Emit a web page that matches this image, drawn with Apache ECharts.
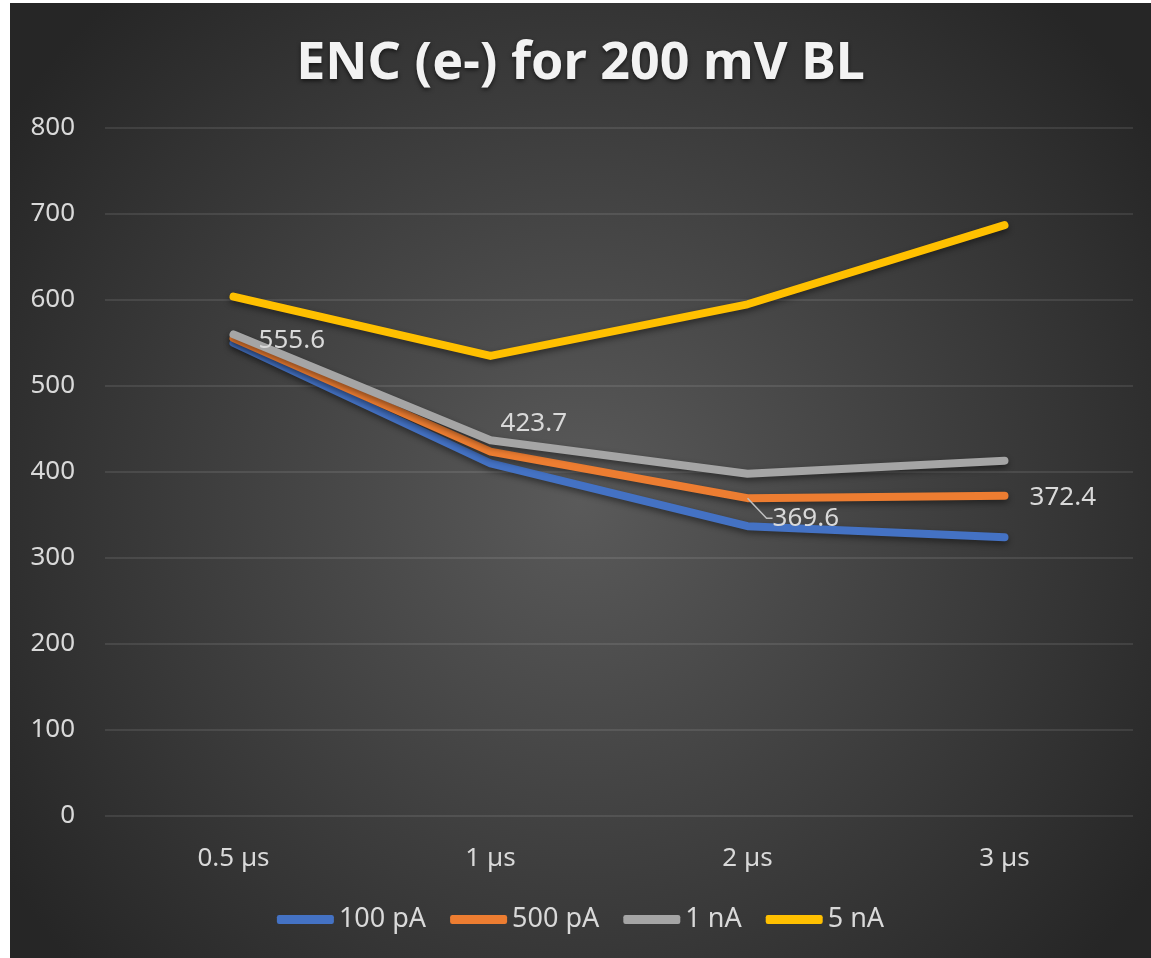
<!DOCTYPE html>
<html>
<head>
<meta charset="utf-8">
<script src="https://cdn.jsdelivr.net/npm/echarts@6/dist/echarts.min.js"></script>
<style>
html,body{margin:0;padding:0;background:#fff;}
#c{position:absolute;left:10px;top:3px;width:1141px;height:955px;}
</style>
</head>
<body>
<div id="c"></div>
<script>
const categories = ['0.5 µs', '1 µs', '2 µs', '3 µs'];
const s100pA = [550, 410, 337, 324];
const s500pA = [555.6, 423.7, 369.6, 372.4];
const s1nA = [560, 437, 398, 413];
const s5nA = [604, 535, 595, 687];
const seriesNames = ['100 pA', '500 pA', '1 nA', '5 nA'];
const colors = ['#4472c4', '#ed7d31', '#a5a5a5', '#ffc000'];
const labelMoves = [[20, 2], [5, -28], [20, 20], [20, 2]];

const chart = echarts.init(document.getElementById('c'));
const font = 'Noto Sans';
function lineSeries(name, data, color, withLabels) {
  const s = {
    name: name, type: 'line', symbol: 'circle', symbolSize: 0.1, showSymbol: true,
    data: data,
    lineStyle: { width: 8, color: color, cap: 'round', join: 'round',
      shadowColor: 'rgba(0,0,0,0.45)', shadowBlur: 6, shadowOffsetY: 3 },
    itemStyle: { color: color },
    emphasis: { disabled: true },
    z: 2
  };
  if (withLabels) {
    s.label = { show: true, color: '#d9d9d9', fontSize: 26, fontFamily: font, position: 'right' };
    s.labelLine = { show: false, lineStyle: { color: '#bfbfbf', width: 1.5 }, length2: 6 };
    s.data = data.map((v, i) => ({
      value: v,
      labelLine: { show: i === 2 }
    }));
    s.labelLayout = function (p) {
      const m = labelMoves[p.dataIndex];
      return { dx: m[0], dy: m[1] };
    };
  }
  return s;
}
chart.setOption({
  backgroundColor: {
    type: 'radial', x: 0.5, y: 0.52, r: 0.72,
    colorStops: [{ offset: 0, color: '#5a5a5a' }, { offset: 1, color: '#262626' }]
  },
  color: colors,
  title: {
    text: 'ENC (e-) for 200 mV BL', left: 'center', top: 30,
    textStyle: { color: '#f2f2f2', fontSize: 52, fontWeight: 'bold', fontFamily: font,
      textShadowColor: 'rgba(0,0,0,0.6)', textShadowBlur: 4, textShadowOffsetY: 2 }
  },
  grid: { left: 95, top: 125, width: 1028, height: 688, containLabel: false },
  legend: {
    bottom: 20, left: 'center', itemWidth: 57, itemHeight: 9, itemGap: 24,
    icon: 'roundRect',
    textStyle: { color: '#d9d9d9', fontSize: 27, fontFamily: font },
    data: seriesNames
  },
  xAxis: {
    type: 'category', data: categories, boundaryGap: true,
    axisLine: { show: false }, axisTick: { show: false },
    axisLabel: { color: '#d9d9d9', fontSize: 26, fontFamily: font, margin: 30 }
  },
  yAxis: {
    type: 'value', min: 0, max: 800, interval: 100,
    axisLine: { show: false }, axisTick: { show: false },
    axisLabel: { color: '#d9d9d9', fontSize: 26, fontFamily: font, margin: 30 },
    splitLine: { lineStyle: { color: 'rgba(255,255,255,0.13)', width: 1.5 } }
  },
  series: [
    lineSeries(seriesNames[0], s100pA, colors[0], false),
    lineSeries(seriesNames[1], s500pA, colors[1], true),
    lineSeries(seriesNames[2], s1nA, colors[2], false),
    lineSeries(seriesNames[3], s5nA, colors[3], false)
  ]
});
</script>
</body>
</html>
